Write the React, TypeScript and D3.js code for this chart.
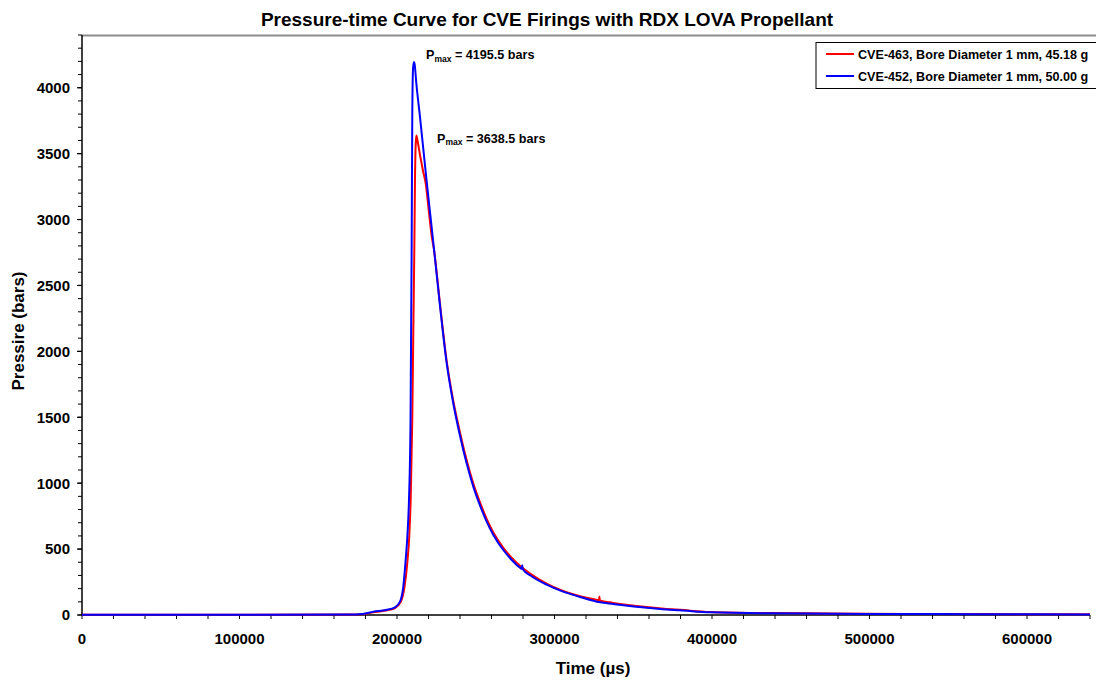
import React from "react";
import * as d3 from "d3";

// ---- data ----
const titleText = "Pressure-time Curve for CVE Firings with RDX LOVA Propellant";
const xTicksMajor = [0, 100000, 200000, 300000, 400000, 500000, 600000];
const yTicksMajor = [0, 500, 1000, 1500, 2000, 2500, 3000, 3500, 4000];
const xDomain = [0, 640000];
const yDomain = [0, 4400];

// CVE-463 (red) time (µs) / pressure (bars)
const redTime = [
  0, 100000, 170000, 178000, 185000, 193000, 198700, 202500, 204800, 206700,
  207800, 208700, 209700, 210400, 211000, 211400, 211900, 212300, 213000, 214600,
  216500, 218400, 220100, 222000, 223500, 227300, 231500, 235500, 240000, 244000,
  248500, 253000, 257000, 261000, 267500, 272000, 278100, 285000, 295000, 305000,
  316200, 327800, 328300, 328500, 328800, 337300, 358500, 371200, 379700, 398700,
  434700, 460000, 498200, 540000, 600000, 640000,
];
const redPressure = [
  2, 2, 3, 6, 20, 34, 52, 101, 215, 418,
  600, 880, 1483, 2200, 2776, 3283, 3580, 3638.5, 3600, 3490,
  3370, 3260, 3075, 2877, 2770, 2360, 1930, 1640, 1385, 1185,
  995, 845, 727, 630, 510, 445, 373, 310, 238, 184,
  142, 112, 110, 140, 110, 92, 60, 46, 39, 23,
  15, 13, 9, 8, 6, 5,
];

// CVE-452 (blue)
const blueTime = [
  0, 100000, 170000, 178000, 185000, 193000, 198700, 201900, 204000, 205500,
  206700, 207600, 208600, 209300, 209700, 210200, 210800, 211300, 212200, 214500,
  216700, 218900, 221200, 223500, 227300, 231500, 235500, 240000, 244000, 248500,
  253000, 257000, 261000, 267500, 272000, 278100, 279200, 279500, 279900, 285000,
  295000, 305000, 316200, 328900, 337300, 358500, 371200, 379700, 398700, 434700,
  460000, 498200, 540000, 600000, 640000,
];
const bluePressure = [
  2, 2, 3, 8, 25, 38, 58, 101, 215, 418,
  621, 870, 1483, 2776, 3790, 4150, 4195.5, 4170, 4043, 3790,
  3536, 3283, 3029, 2776, 2345, 1914, 1620, 1360, 1160, 972,
  822, 706, 611, 493, 429, 359, 350, 378, 347, 298,
  230, 179, 137, 96, 84, 55, 42, 36, 20, 13,
  12, 8, 7, 5, 4,
];

const seriesNames = [
  "CVE-463, Bore Diameter 1 mm, 45.18 g",
  "CVE-452, Bore Diameter 1 mm, 50.00 g",
];
const seriesColors = ["#ff0000", "#0000ff"];

const FONT = "'Liberation Sans', Arial, sans-serif";

export default function App() {
  const W = 1096;
  const H = 681;
  const left = 82;
  const right = 1090;
  const top = 35;
  const bottom = 615;

  const x = d3.scaleLinear().domain(xDomain).range([left, right]);
  const y = d3.scaleLinear().domain(yDomain).range([bottom, top]);

  const line = d3
    .line<[number, number]>()
    .x((d) => x(d[0]))
    .y((d) => y(d[1]))
    .curve(d3.curveMonotoneX);

  const red = redTime.map((t, i) => [t, redPressure[i]] as [number, number]);
  const blue = blueTime.map((t, i) => [t, bluePressure[i]] as [number, number]);

  const xMinor = d3.range(xDomain[0], xDomain[1] + 1, 20000);
  const yMinor = d3.range(yDomain[0], yDomain[1] + 1, 100);

  return (
    <svg
      width={W}
      height={H}
      style={{ position: "absolute", left: 0, top: 0, background: "#fff" }}
      fontFamily={FONT}
    >
      <rect x={0} y={0} width={W} height={H} fill="#fff" />
      {/* title */}
      <text x={547} y={26} textAnchor="middle" fontSize={19} fontWeight="bold" fill="#000">
        {titleText}
      </text>

      {/* plot frame top */}
      <line x1={left} x2={W} y1={top + 0.5} y2={top + 0.5} stroke="#8c8c8c" strokeWidth={2} />

      {/* y axis */}
      <line x1={left} x2={left} y1={top} y2={bottom} stroke="#000" strokeWidth={1.5} />
      {yMinor.map((v) => (
        <line key={"ym" + v} x1={left - 4} x2={left} y1={y(v)} y2={y(v)} stroke="#000" strokeWidth={1} />
      ))}
      {yTicksMajor.map((v) => (
        <g key={"yt" + v}>
          <line x1={left - 5} x2={left} y1={y(v)} y2={y(v)} stroke="#000" strokeWidth={1.2} />
          <text x={70} y={y(v)} dy="0.36em" textAnchor="end" fontSize={15} fontWeight="bold" fill="#000">
            {v}
          </text>
        </g>
      ))}

      {/* x axis */}
      <line x1={left} x2={right} y1={bottom} y2={bottom} stroke="#000" strokeWidth={1.5} />
      {xMinor.map((v) => (
        <line key={"xm" + v} x1={x(v)} x2={x(v)} y1={bottom} y2={bottom + 4} stroke="#000" strokeWidth={1} />
      ))}
      {xTicksMajor.map((v) => (
        <text key={"xt" + v} x={x(v)} y={643.5} textAnchor="middle" fontSize={15} fontWeight="bold" fill="#000">
          {v}
        </text>
      ))}

      {/* axis titles */}
      <text x={593} y={674} textAnchor="middle" fontSize={17} fontWeight="bold" fill="#000">
        Time (µs)
      </text>
      <text
        transform="translate(24,331) rotate(-90)"
        textAnchor="middle"
        fontSize={17}
        fontWeight="bold"
        fill="#000"
      >
        Pressire (bars)
      </text>

      {/* series */}
      <path d={line(red) || ""} fill="none" stroke={seriesColors[0]} strokeWidth={2} strokeLinejoin="round" />
      <path d={line(blue) || ""} fill="none" stroke={seriesColors[1]} strokeWidth={2} strokeLinejoin="round" />

      {/* annotations */}
      <text x={426} y={59} fontSize={12.6} fontWeight="bold" fill="#000">
        P
        <tspan fontSize={8.5} dy={2.5}>max</tspan>
        <tspan fontSize={12.6} dy={-2.5}> = 4195.5 bars</tspan>
      </text>
      <text x={437} y={142.5} fontSize={12.6} fontWeight="bold" fill="#000">
        P
        <tspan fontSize={8.5} dy={2.5}>max</tspan>
        <tspan fontSize={12.6} dy={-2.5}> = 3638.5 bars</tspan>
      </text>

      {/* legend */}
      <rect x={816} y={42.5} width={300} height={46} fill="#fff" stroke="#000" strokeWidth={1} />
      {seriesNames.map((name, i) => (
        <g key={name}>
          <line x1={826} x2={854} y1={54 + i * 22} y2={54 + i * 22} stroke={seriesColors[i]} strokeWidth={2} />
          <text x={858} y={58.5 + i * 22} fontSize={12.6} fontWeight="bold" fill="#000">
            {name}
          </text>
        </g>
      ))}
    </svg>
  );
}
